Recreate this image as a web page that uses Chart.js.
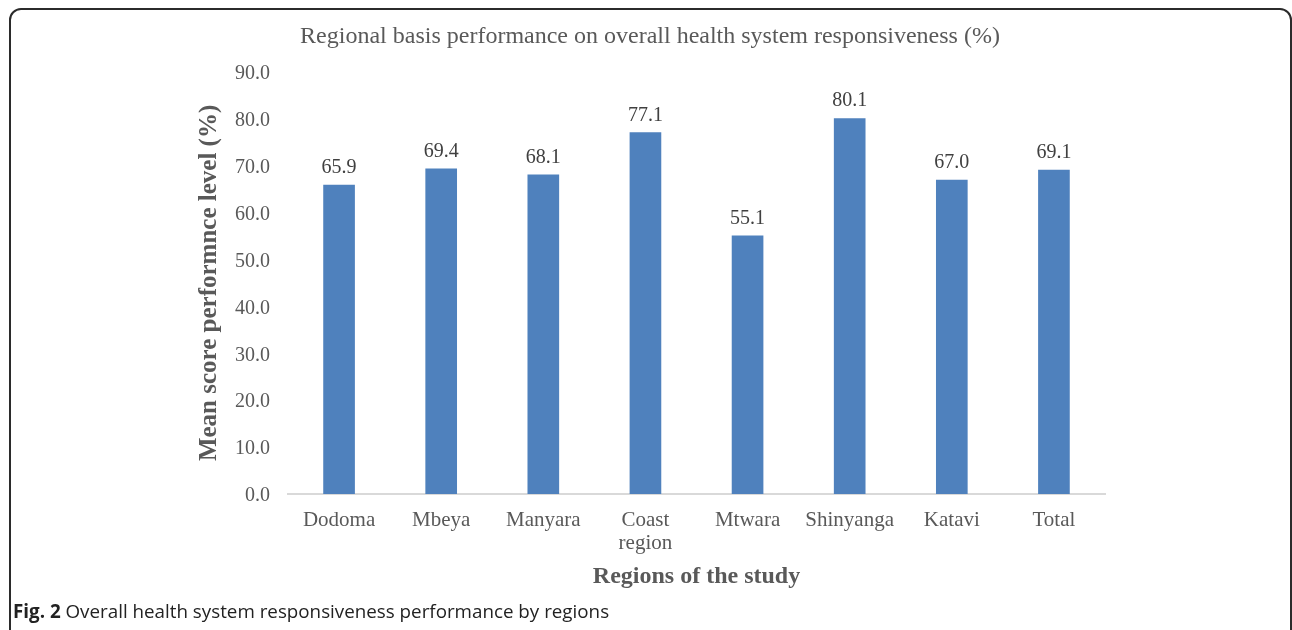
<!DOCTYPE html>
<html>
<head>
<meta charset="utf-8">
<script src="https://cdn.jsdelivr.net/npm/chart.js"></script>
<style>
  body { margin: 0; width: 1292px; height: 630px; overflow: hidden; background: #fff; position: relative; }
  #frame {
    position: absolute; left: 9px; top: 8px; width: 1283px; height: 700px;
    border: 2px solid #2b2b2b; border-radius: 12px; box-sizing: border-box;
  }
  #wrap { position: absolute; left: 0; top: 0; width: 1292px; height: 600px; }
  #caption {
    position: absolute; left: 13px; top: 598px;
    font-family: "Open Sans", sans-serif; font-size: 18.8px; color: #222;
    white-space: nowrap;
  }
  #caption b { font-weight: 700; }
</style>
</head>
<body>
<div id="frame"></div>
<div id="wrap"><canvas id="chart"></canvas></div>
<div id="caption"><b>Fig. 2</b> Overall health system responsiveness performance by regions</div>
<script>
const regions = ['Dodoma', 'Mbeya', 'Manyara', ['Coast', 'region'], 'Mtwara', 'Shinyanga', 'Katavi', 'Total'];
const scores = [65.9, 69.4, 68.1, 77.1, 55.1, 80.1, 67.0, 69.1];
const yMin = 0;
const yMax = 90;
const yStep = 10;

const serif = '"Liberation Serif", "Times New Roman", serif';

// labels above each bar
const barLabels = {
    id: 'barLabels',
    afterDatasetsDraw(chart) {
        const ctx = chart.ctx;
        const meta = chart.getDatasetMeta(0);
        ctx.save();
        ctx.font = '20px ' + serif;
        ctx.fillStyle = '#404040';
        ctx.textAlign = 'center';
        ctx.textBaseline = 'bottom';
        meta.data.forEach((bar, i) => {
            ctx.fillText(scores[i].toFixed(1), bar.x, bar.y - 7);
        });
        ctx.restore();
    }
};

new Chart(document.getElementById('chart'), {
    type: 'bar',
    data: {
        labels: regions,
        datasets: [{
            data: scores,
            backgroundColor: '#4f81bd',
            barPercentage: 0.31,
            categoryPercentage: 1.0
        }]
    },
    options: {
        responsive: true,
        maintainAspectRatio: false,
        animation: false,
        layout: { padding: { left: 195, right: 187, top: 13, bottom: 6 } },
        plugins: {
            legend: { display: false },
            tooltip: { enabled: false },
            title: {
                display: true,
                text: 'Regional basis performance on overall health system responsiveness (%)',
                color: '#595959',
                font: { family: serif, size: 24, weight: 'normal' },
                padding: { top: 9, bottom: 21 }
            }
        },
        scales: {
            x: {
                grid: { display: false, drawTicks: false },
                border: { display: true, color: '#d9d9d9', width: 2 },
                ticks: {
                    color: '#595959',
                    font: { family: serif, size: 21, lineHeight: 1.1 },
                    padding: 15,
                    maxRotation: 0,
                    autoSkip: false
                },
                title: {
                    display: true,
                    text: 'Regions of the study',
                    color: '#595959',
                    font: { family: serif, size: 24, weight: 'bold' },
                    padding: { top: 4, bottom: 3 }
                },
                afterFit(scale) { scale.height = 100; }
            },
            y: {
                min: yMin,
                max: yMax,
                grid: { display: false, drawTicks: false },
                border: { display: false },
                ticks: {
                    stepSize: yStep,
                    color: '#595959',
                    font: { family: serif, size: 20 },
                    padding: 18,
                    labelOffset: 2,
                    callback: v => v.toFixed(1)
                },
                title: {
                    display: true,
                    text: 'Mean score performnce level (%)',
                    color: '#595959',
                    font: { family: serif, size: 25, weight: 'bold' },
                    padding: { top: 0, bottom: 4 }
                },
                afterFit(scale) { scale.width = 93; }
            }
        }
    },
    plugins: [barLabels]
});
</script>
</body>
</html>
